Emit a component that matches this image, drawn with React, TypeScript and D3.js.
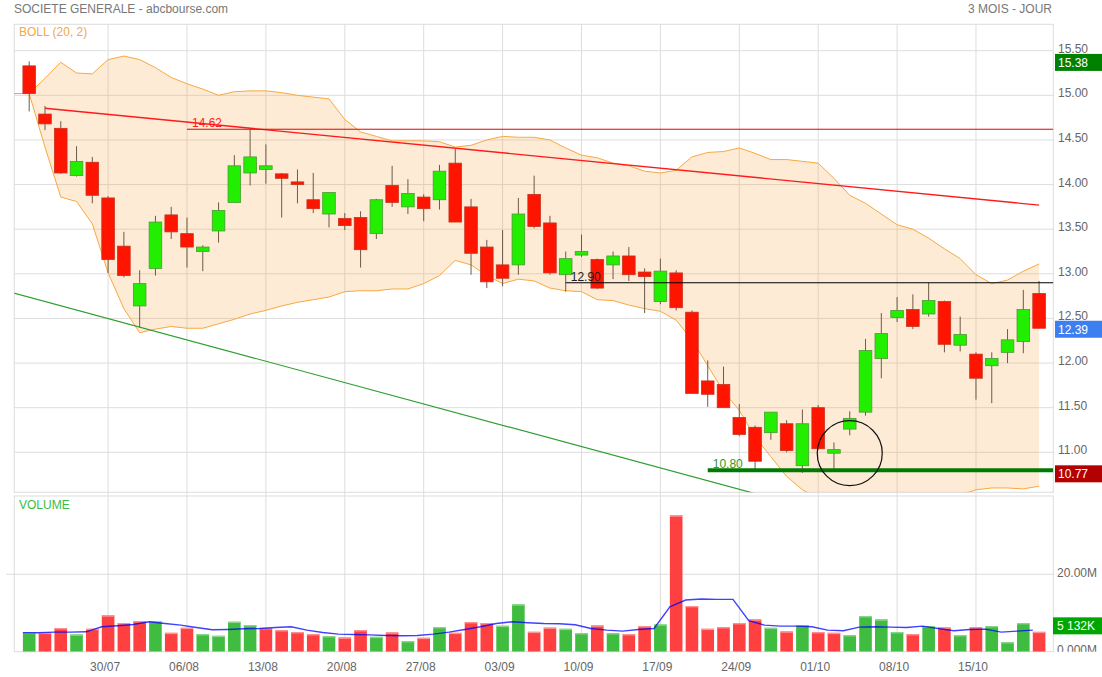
import React from "react";
import * as d3 from "d3";

// daily OHLC (65 sessions, 23/07 -> 19/10)
const opens = [15.33, 14.79, 14.63, 14.10, 14.25, 13.85, 13.31, 12.64, 13.06, 13.66, 13.45, 13.25, 13.48, 13.80, 14.13, 14.17, 14.12, 14.03, 13.83, 13.67, 13.62, 13.63, 13.45, 13.99, 13.75, 13.86, 13.83, 14.24, 13.75, 13.30, 13.10, 13.10, 13.89, 13.57, 12.99, 13.21, 13.16, 13.10, 13.20, 13.02, 12.69, 13.01, 12.57, 11.80, 11.76, 11.39, 11.28, 11.22, 11.32, 10.85, 11.50, 10.99, 11.26, 11.45, 12.05, 12.51, 12.60, 12.55, 12.69, 12.20, 12.10, 11.97, 12.12, 12.24, 12.78];
const highs = [15.38, 14.88, 14.71, 14.43, 14.31, 13.87, 13.47, 13.04, 13.65, 13.75, 13.63, 13.32, 13.80, 14.33, 14.62, 14.45, 14.13, 14.17, 14.13, 13.91, 13.68, 13.70, 13.84, 14.21, 14.06, 13.89, 14.22, 14.40, 13.84, 13.38, 13.49, 13.85, 14.10, 13.65, 13.25, 13.44, 13.17, 13.25, 13.30, 13.06, 13.17, 13.04, 12.59, 12.03, 11.96, 11.54, 11.30, 11.45, 11.36, 11.48, 11.53, 11.11, 11.46, 12.27, 12.56, 12.74, 12.77, 12.90, 12.70, 12.52, 12.12, 12.12, 12.38, 12.82, 12.92];
const lows = [14.82, 14.61, 14.12, 14.09, 13.79, 13.01, 12.96, 12.40, 12.98, 13.39, 13.07, 13.03, 13.35, 13.80, 13.99, 14.01, 13.63, 13.79, 13.68, 13.52, 13.49, 13.07, 13.39, 13.75, 13.67, 13.59, 13.72, 13.58, 12.99, 12.84, 12.86, 12.99, 13.51, 12.99, 12.80, 13.19, 12.83, 12.94, 12.92, 12.56, 12.66, 12.59, 11.66, 11.51, 11.50, 11.18, 10.81, 11.14, 11.00, 10.77, 11.03, 10.80, 11.19, 11.41, 11.83, 12.46, 12.38, 12.52, 12.12, 12.13, 11.59, 11.55, 12.00, 12.11, 12.39];
const closes = [15.02, 14.68, 14.13, 14.26, 13.88, 13.16, 12.98, 12.89, 13.58, 13.47, 13.30, 13.30, 13.71, 14.21, 14.31, 14.21, 14.07, 14.00, 13.73, 13.91, 13.54, 13.27, 13.83, 13.80, 13.90, 13.73, 14.15, 13.58, 13.23, 12.91, 12.95, 13.67, 13.53, 13.01, 13.17, 13.25, 12.84, 13.20, 12.99, 12.97, 13.03, 12.62, 11.66, 11.65, 11.50, 11.20, 10.90, 11.45, 11.02, 11.32, 11.04, 11.03, 11.38, 12.14, 12.33, 12.59, 12.41, 12.70, 12.21, 12.32, 11.83, 12.05, 12.26, 12.60, 12.39];

// Bollinger (20, 2) envelope
const bollUpper = [15.02, 15.19, 15.37, 15.25, 15.24, 15.40, 15.44, 15.40, 15.31, 15.20, 15.13, 15.07, 15.00, 15.04, 15.05, 15.05, 15.03, 15.00, 14.98, 14.96, 14.73, 14.59, 14.54, 14.49, 14.49, 14.49, 14.48, 14.42, 14.44, 14.50, 14.54, 14.53, 14.53, 14.50, 14.41, 14.33, 14.30, 14.24, 14.21, 14.15, 14.13, 14.16, 14.31, 14.36, 14.37, 14.41, 14.35, 14.28, 14.28, 14.26, 14.24, 14.07, 13.88, 13.79, 13.67, 13.55, 13.50, 13.40, 13.28, 13.17, 12.99, 12.89, 12.93, 13.03, 13.11];
const bollLower = [15.02, 14.42, 13.86, 13.81, 13.56, 13.01, 12.61, 12.34, 12.38, 12.41, 12.39, 12.39, 12.44, 12.49, 12.55, 12.59, 12.64, 12.68, 12.71, 12.74, 12.80, 12.81, 12.81, 12.83, 12.83, 12.89, 12.98, 13.15, 13.10, 12.98, 12.89, 12.94, 12.92, 12.84, 12.81, 12.80, 12.71, 12.70, 12.65, 12.61, 12.58, 12.48, 12.26, 11.97, 11.68, 11.47, 11.17, 10.95, 10.73, 10.58, 10.48, 10.40, 10.35, 10.30, 10.28, 10.28, 10.32, 10.38, 10.45, 10.52, 10.58, 10.60, 10.60, 10.59, 10.62];

// volume in millions, bar colour (G = up day, R = down day), 5-day average
const volumes = [4.88, 4.88, 6.09, 4.45, 5.92, 9.38, 7.39, 7.91, 7.82, 4.88, 6.18, 4.54, 4.11, 7.74, 6.87, 6.09, 5.57, 5.06, 4.54, 4.02, 3.67, 5.57, 3.85, 4.97, 2.72, 3.59, 6.35, 4.88, 7.65, 7.39, 6.70, 12.23, 5.14, 6.22, 5.92, 4.80, 6.78, 4.80, 4.54, 6.61, 7.04, 35.22, 11.80, 5.92, 6.35, 7.39, 8.34, 6.18, 5.23, 6.87, 5.06, 4.88, 4.28, 9.20, 8.34, 5.06, 4.54, 6.61, 6.27, 4.28, 6.35, 6.61, 2.46, 7.39, 5.132];
const volumeDir = ("GRRGR" + "RRRGR" + "RGGGG" + "RRRRG" + "RRGRG" + "RGRRR" + "GGRRG" + "GRGRR" + "GRRRR" + "RRGRG" + "RRGGG" + "GRGRG" + "RGGGR").split("");
const volumeAvg = [4.88, 4.88, 5.06, 5.06, 5.14, 6.44, 6.70, 7.04, 7.74, 7.30, 6.87, 6.27, 5.66, 5.75, 5.92, 6.00, 6.27, 6.44, 5.57, 4.97, 4.54, 4.45, 4.36, 4.19, 4.11, 4.19, 4.54, 5.06, 5.75, 6.44, 7.30, 7.74, 7.48, 7.30, 7.22, 6.96, 6.00, 5.57, 5.31, 5.75, 6.00, 11.62, 13.35, 13.61, 13.53, 13.53, 8.00, 6.87, 6.61, 6.61, 6.44, 5.57, 5.40, 6.35, 6.44, 6.35, 6.27, 6.61, 6.00, 5.40, 5.75, 5.83, 5.06, 5.31, 5.57];

// axis ticks
const dateTickIndex = [5, 10, 15, 20, 25, 30, 35, 40, 45, 50, 55, 60];
const dateTickLabels = ["30/07", "06/08", "13/08", "20/08", "27/08", "03/09", "10/09", "17/09", "24/09", "01/10", "08/10", "15/10"];
const priceTicks = [11, 11.5, 12, 12.5, 13, 13.5, 14, 14.5, 15, 15.5];
const volumeTicks = [0, 20];

// drawings on the chart
const redTrend = [{ i: 1, p: 14.855 }, { i: 64, p: 13.77 }];
const greenTrend = [{ i: -1, p: 12.786 }, { i: 48, p: 10.442 }];
const levels = [
  { from: 10, p: 14.62, kind: "resist" },
  { from: 34, p: 12.9, kind: "pivot" },
  { from: 43, p: 10.8, kind: "support" },
];
const circleMark = { i: 52, p: 10.99 };

const FONT = "'Liberation Sans', Arial, Helvetica, sans-serif";
const L = 14.3, R = 1053.3;
const MT = 24.3, MB = 492.3;
const VT = 496, VB = 651.7;

const x = d3.scaleLinear().domain([0, 64]).range([29.2, 1039.1]);
const y = d3.scaleLinear().domain([11, 15.5]).range([452.3, 50.7]);
const yv = d3.scaleLinear().domain([0, 20]).range([VB, 574.3]);
const BW = 12.6;

const idx = d3.range(closes.length);

export default function App() {
  const bandIdx = [-1, ...idx];
  const at = (arr: number[], i: number) => arr[Math.max(0, i)];
  const band = d3.area<number>()
    .x((i) => x(i))
    .y0((i) => y(at(bollLower, i)))
    .y1((i) => y(at(bollUpper, i)));
  const bandLine = (arr: number[]) =>
    d3.line<number>().x((i) => x(i)).y((i) => y(at(arr, i)))(bandIdx) || "";
  const trend = d3.line<{ i: number; p: number }>().x((d) => x(d.i)).y((d) => y(d.p));
  const avgLine = d3.line<number>().x((i) => x(i) - BW / 2).y((i) => yv(volumeAvg[i]))(idx) || "";

  const levelStyle: Record<string, { stroke: string; width: number; text: string }> = {
    resist: { stroke: "#e80000", width: 1, text: "#ff2020" },
    pivot: { stroke: "#000000", width: 1.2, text: "#222" },
    support: { stroke: "#007a00", width: 4, text: "#2a9a2a" },
  };

  const priceBoxes = [
    { v: d3.max(highs) as number, fill: "#008000" },
    { v: closes[closes.length - 1], fill: "#3d7ff0" },
    { v: d3.min(lows) as number, fill: "#b30000" },
  ];
  const lastVol = volumes[volumes.length - 1];

  return (
    <svg width={1102} height={677} style={{ position: "absolute", left: 0, top: 0, display: "block", background: "#fff" }} fontFamily={FONT}>
      <defs>
        <clipPath id="mainClip"><rect x={L} y={MT} width={R - L} height={MB - MT} /></clipPath>
        <clipPath id="volClip"><rect x={L} y={VT} width={R - L} height={VB - VT} /></clipPath>
        <clipPath id="axisClip"><rect x={R} y={0} width={60} height={VB} /></clipPath>
      </defs>

      <text x={14} y={13} fontSize={12} fill="#777">SOCIETE GENERALE - abcbourse.com</text>
      <text x={1052} y={13} fontSize={12} fill="#777" textAnchor="end">3 MOIS - JOUR</text>

      {/* grid */}
      <g stroke="#dddddd" strokeWidth={1} fill="none">
        {priceTicks.map((p) => <line key={p} x1={L} x2={R} y1={y(p)} y2={y(p)} />)}
        {dateTickIndex.map((i) => <line key={i} x1={x(i)} x2={x(i)} y1={MT} y2={VB} />)}
        <line x1={6} x2={R} y1={yv(20)} y2={yv(20)} />
        <rect x={L} y={MT} width={R - L} height={MB - MT} />
        <rect x={L} y={VT} width={R - L} height={VB - VT} />
      </g>

      <text x={19} y={36} fontSize={12} fill="#f5a742">BOLL (20, 2)</text>

      <g clipPath="url(#mainClip)">
        <path d={band(bandIdx) || ""} fill="rgb(247,160,60)" fillOpacity={0.21} />
        <path d={bandLine(bollUpper)} fill="none" stroke="#f7a840" strokeWidth={1} />
        <path d={bandLine(bollLower)} fill="none" stroke="#f7a840" strokeWidth={1} />

        <path d={trend(greenTrend) || ""} fill="none" stroke="#2e9e2e" strokeWidth={1.2} />
        <path d={trend(redTrend) || ""} fill="none" stroke="#ff1a1a" strokeWidth={1.4} />

        {idx.map((i) => {
          const up = closes[i] >= opens[i];
          const top = y(Math.max(opens[i], closes[i]));
          const bot = y(Math.min(opens[i], closes[i]));
          return (
            <g key={i}>
              <line x1={x(i)} x2={x(i)} y1={y(highs[i])} y2={y(lows[i])} stroke="#6e5a48" strokeWidth={1} />
              <rect x={x(i) - BW / 2} y={top} width={BW} height={Math.max(bot - top, 1.5)}
                fill={up ? "#22ee00" : "#ff1400"} stroke={up ? "#4a9a34" : "#c8321e"} strokeWidth={0.8} />
            </g>
          );
        })}

        {levels.map((lv) => {
          const st = levelStyle[lv.kind];
          return (
            <g key={lv.p}>
              <line x1={x(lv.from)} x2={R} y1={y(lv.p)} y2={y(lv.p)} stroke={st.stroke} strokeWidth={st.width} />
              <text x={x(lv.from) + 5} y={y(lv.p) - 2} fontSize={12} fill={st.text}>{lv.p.toFixed(2)}</text>
            </g>
          );
        })}

        <circle cx={x(circleMark.i)} cy={y(circleMark.p)} r={32.5} fill="none" stroke="#111" strokeWidth={1.2} />
      </g>

      {/* price axis */}
      {priceTicks.map((p) => (
        <text key={p} x={1058} y={y(p) + 2} fontSize={12} fill="#666">{p.toFixed(2)}</text>
      ))}
      {priceBoxes.map((b) => (
        <g key={b.fill}>
          <rect x={1055} y={y(b.v) + 1 - 8.5} width={47} height={17} fill={b.fill} />
          <text x={1058} y={y(b.v) + 1 + 4.5} fontSize={12} fill="#fff">{b.v.toFixed(2)}</text>
        </g>
      ))}

      {/* volume */}
      <text x={19} y={509} fontSize={12} fill="#3cbe3c">VOLUME</text>
      <g clipPath="url(#volClip)">
        {idx.map((i) => {
          const up = volumeDir[i] === "G";
          const top = yv(volumes[i]);
          return (
            <g key={i}>
              <rect x={x(i) - BW / 2} y={top} width={BW} height={VB - top} fill={up ? "#40bd40" : "#ff4040"} />
              <rect x={x(i) - BW / 2} y={top} width={BW} height={1.3} fill={up ? "#8fd68f" : "#ff9696"} />
            </g>
          );
        })}
        <path d={avgLine} fill="none" stroke="#0000ff" strokeOpacity={0.75} strokeWidth={1.4} />
      </g>

      <g clipPath="url(#axisClip)">
        {volumeTicks.map((v) => (
          <text key={v} x={1057} y={yv(v) + 2.4} fontSize={12} fill="#666">{v === 0 ? "0.000M" : `${v.toFixed(2)}M`}</text>
        ))}
      </g>
      <rect x={1053} y={yv(lastVol) - 6 - 8.5} width={49} height={17} fill="#00a600" />
      <text x={1057} y={yv(lastVol) - 6 + 4.5} fontSize={12} fill="#fff">
        {`${Math.floor(lastVol)} ${Math.round((lastVol % 1) * 1000)}K`}
      </text>

      {/* date axis */}
      {dateTickIndex.map((i, k) => (
        <text key={i} x={x(i) - 3} y={671} fontSize={12} fill="#666" textAnchor="middle">{dateTickLabels[k]}</text>
      ))}
    </svg>
  );
}
